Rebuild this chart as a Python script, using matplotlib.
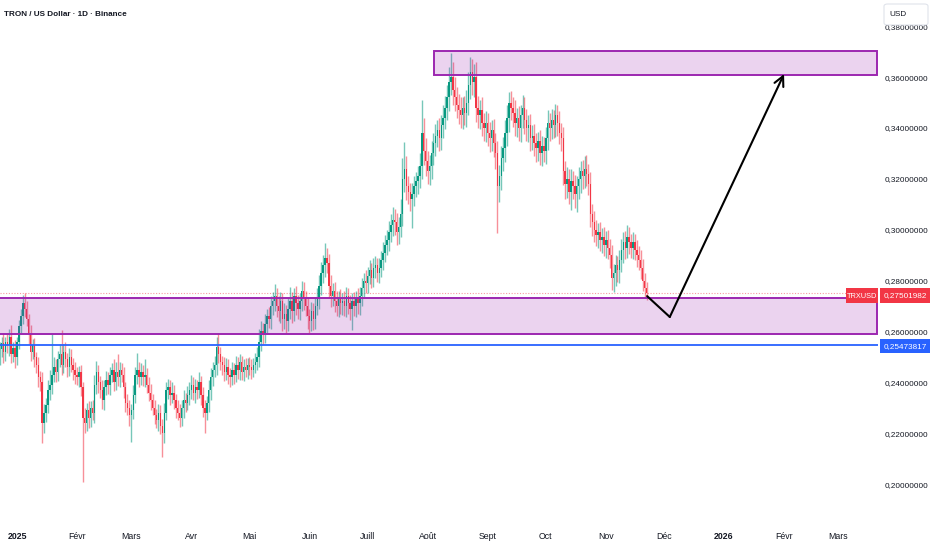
import numpy as np
import matplotlib
matplotlib.use("Agg")
import matplotlib.pyplot as plt
from matplotlib import font_manager
from matplotlib.patches import Rectangle, FancyBboxPatch

# TRX/USD daily candles (prices x 1e-4)
# day 0 = 2025-01-01, first candle = 2024-12-23
first_day = -9
first_open = 0.2510
last_close = 0.27501982

close_e4 = [
    2530, 2555, 2520, 2560, 2545, 2580, 2510, 2535, 2500, 2560,   # Dec 23 - Jan 1
    2620, 2660, 2710, 2690, 2650, 2590, 2520, 2545, 2500, 2470,
    2420, 2400, 2240, 2280, 2310, 2370, 2390, 2430, 2460, 2440,
    2490, 2510, 2470, 2520, 2490, 2460, 2500, 2470, 2450, 2430,
    2420, 2440, 2380, 2260, 2240, 2290, 2260, 2300, 2280, 2390,
    2440, 2400, 2370, 2330, 2380, 2410, 2390, 2430, 2450, 2400,
    2440, 2420, 2450, 2430, 2380, 2320, 2300, 2270, 2290, 2350,
    2430, 2450, 2420, 2440, 2420, 2430, 2390, 2360, 2330, 2300,
    2270, 2250, 2280, 2230, 2200, 2280, 2370, 2380, 2350, 2360,
    2330, 2300, 2280, 2260, 2300, 2330, 2320, 2350, 2370, 2390,
    2360, 2380, 2370, 2400, 2350, 2300, 2280, 2320, 2370, 2420,
    2450, 2470, 2540, 2510, 2480, 2470, 2440, 2460, 2430, 2420,
    2450, 2430, 2470, 2450, 2480, 2440, 2460, 2450, 2470, 2460,
    2450, 2470, 2480, 2500, 2560, 2600, 2590, 2630, 2660, 2650,
    2700, 2720, 2740, 2700, 2680, 2720, 2650, 2670, 2640, 2690,
    2720, 2680, 2740, 2710, 2690, 2720, 2760, 2730, 2700, 2660,
    2640, 2680, 2650, 2700, 2730, 2780, 2830, 2860, 2890, 2870,
    2780, 2740, 2760, 2720, 2700, 2730, 2710, 2720, 2700, 2740,
    2710, 2690, 2720, 2700, 2730, 2710, 2740, 2770, 2800, 2790,
    2820, 2840, 2810, 2850, 2860, 2830, 2850, 2880, 2910, 2940,
    2960, 2990, 3020, 3040, 3030, 2990, 3010, 3060, 3200, 3240,
    3170, 3150, 3120, 3140, 3170, 3190, 3210, 3250, 3380, 3310,
    3270, 3230, 3250, 3300, 3340, 3370, 3390, 3360, 3410, 3440,
    3480, 3520, 3580, 3600, 3550, 3520, 3490, 3470, 3450, 3480,
    3460, 3500, 3570, 3620, 3580, 3600, 3480, 3450, 3470, 3420,
    3400, 3420, 3380, 3360, 3390, 3340, 3300, 3170, 3210, 3280,
    3320, 3380, 3440, 3500, 3480, 3460, 3420, 3440, 3400, 3450,
    3480, 3430, 3400, 3410, 3360, 3370, 3340, 3320, 3350, 3300,
    3330, 3310, 3360, 3420, 3400, 3430, 3410, 3450, 3420, 3380,
    3360, 3230, 3180, 3200, 3150, 3190, 3170, 3140, 3170, 3200,
    3230, 3210, 3240, 3220, 3180, 3060, 3030, 3000, 2980, 2990,
    2960, 2970, 2940, 2960, 2930, 2900, 2810, 2830, 2860, 2840,
    2880, 2920, 2950, 2930, 2970, 2950, 2930, 2950, 2920, 2900,
    2880, 2850, 2800, 2770, 2750,
]

upper_wick_e4 = [
    30, 25, 40, 20, 35, 30, 45, 25, 30, 20,
    25, 30, 33, 40, 30, 20, 35, 25, 30, 20,
    30, 25, 40, 35, 30, 40, 60, 160, 40, 30,
    35, 40, 95, 30, 40, 25, 35, 30, 25, 30,
    30, 25, 30, 20, 40, 30, 35, 25, 30, 40,
    45, 30, 25, 40, 30, 35, 30, 30, 25, 40,
    40, 70, 30, 25, 30, 20, 35, 30, 25, 40,
    30, 65, 30, 35, 30, 60, 25, 30, 35, 25,
    30, 25, 35, 30, 25, 40, 30, 35, 30, 40,
    30, 25, 30, 35, 30, 40, 30, 35, 30, 40,
    30, 35, 30, 40, 25, 30, 30, 25, 40, 35,
    30, 35, 40, 54, 30, 25, 30, 35, 30, 25,
    30, 25, 35, 30, 30, 25, 30, 35, 25, 30,
    30, 25, 35, 40, 50, 40, 35, 40, 30, 35,
    40, 35, 45, 30, 40, 35, 30, 40, 35, 40,
    55, 35, 30, 40, 35, 30, 40, 35, 30, 35,
    30, 35, 30, 35, 40, 40, 45, 40, 57, 40,
    35, 40, 30, 35, 40, 30, 35, 30, 40, 35,
    30, 35, 30, 35, 30, 40, 35, 40, 30, 40,
    35, 40, 30, 40, 35, 30, 40, 35, 40, 40,
    40, 45, 40, 50, 40, 35, 40, 60, 80, 104,
    50, 40, 35, 45, 40, 35, 40, 50, 130, 60,
    50, 40, 45, 50, 40, 45, 40, 50, 40, 50,
    45, 50, 60, 94, 60, 50, 40, 45, 50, 40,
    45, 50, 50, 58, 50, 50, 60, 45, 40, 50,
    40, 45, 40, 45, 40, 45, 40, 50, 45, 50,
    45, 50, 50, 40, 45, 40, 50, 40, 45, 40,
    50, 40, 45, 40, 45, 40, 45, 40, 35, 40,
    40, 35, 45, 50, 40, 45, 40, 45, 40, 45,
    40, 45, 40, 45, 40, 50, 40, 45, 40, 45,
    40, 45, 50, 55, 40, 45, 40, 45, 40, 35,
    40, 35, 40, 35, 40, 35, 40, 35, 40, 35,
    40, 45, 40, 45, 50, 40, 35, 40, 35, 40,
    35, 40, 35, 30, 25,
]

lower_wick_e4 = [
    40, 30, 45, 35, 30, 40, 35, 30, 45, 30,
    30, 25, 30, 35, 30, 40, 35, 30, 40, 35,
    40, 35, 80, 40, 35, 30, 40, 35, 30, 40,
    35, 30, 40, 35, 30, 40, 35, 30, 40, 35,
    30, 40, 35, 252, 40, 30, 40, 35, 30, 40,
    35, 40, 30, 35, 40, 30, 35, 40, 30, 35,
    30, 35, 40, 30, 40, 35, 30, 40, 105, 35,
    30, 35, 40, 30, 35, 40, 30, 35, 40, 30,
    35, 30, 40, 35, 93, 40, 30, 35, 40, 30,
    35, 40, 30, 35, 30, 40, 35, 30, 40, 35,
    30, 40, 35, 30, 40, 35, 80, 30, 35, 40,
    35, 30, 40, 35, 30, 40, 35, 30, 35, 40,
    30, 35, 30, 35, 40, 30, 35, 30, 35, 30,
    35, 30, 35, 30, 40, 35, 40, 35, 40, 35,
    40, 35, 40, 45, 40, 45, 50, 40, 45, 40,
    40, 45, 40, 45, 40, 45, 40, 45, 40, 50,
    45, 40, 45, 40, 35, 40, 35, 40, 45, 40,
    50, 45, 40, 45, 40, 45, 40, 45, 40, 45,
    40, 45, 84, 40, 45, 40, 45, 40, 35, 40,
    40, 35, 40, 35, 40, 35, 40, 35, 40, 35,
    40, 45, 40, 45, 50, 50, 45, 40, 45, 50,
    55, 50, 45, 113, 45, 40, 50, 45, 50, 55,
    60, 50, 55, 50, 45, 50, 45, 50, 45, 50,
    45, 50, 55, 50, 60, 55, 50, 55, 50, 55,
    50, 55, 50, 55, 50, 60, 55, 50, 55, 50,
    50, 55, 50, 55, 50, 55, 60, 183, 60, 55,
    50, 55, 50, 55, 50, 55, 50, 55, 50, 55,
    50, 55, 50, 55, 50, 45, 50, 55, 50, 45,
    50, 45, 50, 45, 50, 45, 50, 45, 50, 45,
    50, 55, 60, 55, 50, 73, 50, 55, 70, 50,
    55, 50, 45, 50, 45, 50, 55, 50, 45, 50,
    45, 50, 45, 50, 45, 50, 47, 55, 50, 45,
    50, 45, 50, 45, 40, 45, 40, 45, 40, 45,
    40, 45, 40, 35, 25,
]

# drawn zones / levels
supply_zone = (0.3608, 0.3704)     # upper purple box
demand_zone = (0.2592, 0.2732)     # lower purple box
supply_start_day = 215.3
blue_level = 0.25473817
arrow_days = [325.3, 337.0, 396.0]
arrow_prices = [0.2739, 0.2657, 0.3612]

price_ticks = [0.20, 0.22, 0.24, 0.26, 0.28, 0.30, 0.32, 0.34, 0.36, 0.38]
month_days = [0, 31, 59, 90, 120, 151, 181, 212, 243, 273, 304, 334, 365, 396, 424]
month_labels = ["2025", "Févr", "Mars", "Avr", "Mai", "Juin", "Juill", "Août",
                "Sept", "Oct", "Nov", "Déc", "2026", "Févr", "Mars"]

installed = {f.name for f in font_manager.fontManager.ttflist}
narrow = "Liberation Sans Narrow" if "Liberation Sans Narrow" in installed else "Liberation Sans"
plt.rcParams["font.family"] = [narrow, "DejaVu Sans"]
small = 7 if narrow.endswith("Narrow") else 5.9

UP = "#089981"
DOWN = "#f23645"
TXT = "#131722"
PURPLE = "#9c27b0"

closes = np.array(close_e4, dtype=float) / 10000
closes[-1] = last_close
opens = np.concatenate([[first_open], closes[:-1]])
highs = np.maximum(opens, closes) + np.array(upper_wick_e4) / 10000
lows = np.minimum(opens, closes) - np.array(lower_wick_e4) / 10000
days = np.arange(first_day, first_day + len(closes))

W, H = 932, 550
fig = plt.figure(figsize=(W / 100, H / 100), dpi=100)
fig.patch.set_facecolor("white")
ax = fig.add_axes([0, 28 / H, 878 / W, 522 / H])

cols = np.where(closes >= opens, UP, DOWN)
ax.vlines(days, lows, highs, colors=cols, lw=1.0, alpha=0.55, zorder=2)
body_lo = np.minimum(opens, closes)
body_h = np.maximum(np.abs(closes - opens), 0.0003)
ax.bar(days, body_h, bottom=body_lo, width=0.72, color=cols, lw=0, zorder=2.5)

x_left, x_right = -8.78, 444.5
ax.set_xlim(x_left, x_right)
ax.set_ylim(0.1851, 0.3903)

# zones
for (lo, hi), start in ((demand_zone, x_left - 1), (supply_zone, supply_start_day)):
    ax.add_patch(Rectangle((start, lo), x_right - 0.5 - start, hi - lo,
                           facecolor=PURPLE, alpha=0.2, lw=0, zorder=3))
    ax.add_patch(Rectangle((start, lo), x_right - 0.5 - start, hi - lo,
                           fill=False, edgecolor=PURPLE, lw=1.4, zorder=3.1))

ax.axhline(blue_level, color="#2962ff", lw=1.3, zorder=4)
ax.axhline(last_close, color=DOWN, lw=0.8, alpha=0.5, ls=(0, (1, 1.5)), zorder=1.5)

# projection arrow
ax.plot(arrow_days[:2], arrow_prices[:2], color="black", lw=1.5, zorder=5,
        solid_capstyle="round")
ax.annotate("", xy=(arrow_days[2], arrow_prices[2]), xytext=(arrow_days[1], arrow_prices[1]),
            arrowprops=dict(arrowstyle="->,head_length=0.7,head_width=0.35",
                            color="black", lw=1.5, shrinkA=0, shrinkB=0), zorder=5)

for s in ax.spines.values():
    s.set_visible(False)
ax.yaxis.tick_right()
ax.set_yticks(price_ticks)
ax.set_yticklabels([f"{v:.8f}".replace(".", ",") for v in price_ticks])
ax.set_xticks(month_days)
ax.set_xticklabels(month_labels)
ax.tick_params(axis="both", length=0, labelsize=small, labelcolor=TXT)
ax.tick_params(axis="x", pad=7.5, labelsize=small + 0.4)
ax.tick_params(axis="y", pad=4.5)
for lab in ax.get_xticklabels():
    if lab.get_text() in ("2025", "2026"):
        lab.set_fontweight("bold")


def px(x, y):
    return x / W, 1 - y / H


def tag(x0, x1, y0, y1, color, text, size):
    fig.add_artist(Rectangle(px(x0, y1), (x1 - x0) / W, (y1 - y0) / H,
                             transform=fig.transFigure, facecolor=color, lw=0, zorder=10))
    fig.text(*px((x0 + x1) / 2, (y0 + y1) / 2 + 0.5), text, color="white", fontsize=size,
             ha="center", va="center", zorder=11)


tag(846, 878, 288, 303, DOWN, "TRXUSD", small - 0.6)
tag(880, 930, 288, 303, DOWN, "0,27501982", small)
tag(880, 930, 339, 353, "#2962ff", "0,25473817", small)

# currency box top right
fig.add_artist(FancyBboxPatch(px(884, 25), 44 / W, 21 / H, transform=fig.transFigure,
                              boxstyle="round,pad=0,rounding_size=0.004",
                              facecolor="white", edgecolor="#e0e3eb", lw=0.8, zorder=10))
fig.text(*px(889, 14.5), "USD", color=TXT, fontsize=small, ha="left", va="center", zorder=11)

fig.text(*px(4, 14), "TRON / US Dollar · 1D · Binance", color=TXT, fontsize=small,
         fontweight="bold", ha="left", va="center")

fig.savefig("out.png", dpi=100, facecolor="white")
